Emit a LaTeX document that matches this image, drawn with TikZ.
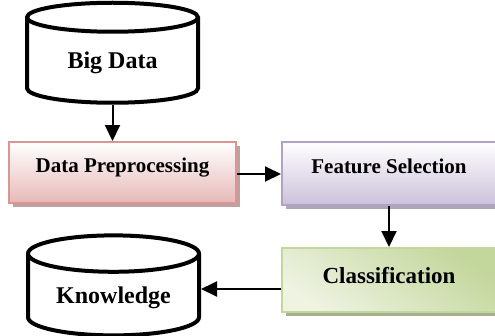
\documentclass[tikz,border=0pt]{standalone}
\usepackage{fontspec}
\setmainfont{Liberation Serif}
\usetikzlibrary{shapes.geometric,shadows,arrows.meta}

\definecolor{pinkline}{HTML}{D99694}
\definecolor{pinklow}{HTML}{E6B9B8}
\definecolor{lilacline}{HTML}{B3A2C7}
\definecolor{lilaclow}{HTML}{CCC1DA}
\definecolor{greenline}{HTML}{C3D69B}
\definecolor{greenlow}{HTML}{EEF3E2}

\begin{document}
\begin{tikzpicture}[x=1pt, y=-1pt,
  store/.style = {shape=cylinder, shape border rotate=90, aspect=0.3, draw,
    line width=4pt, minimum width=171pt, minimum height=100pt, font=\bfseries\fontsize{24}{28}\selectfont},
  stage/.style = {shape=rectangle, draw, line width=2pt, align=center,
    text height=15pt, text depth=15pt, font=\bfseries\fontsize{21}{25}\selectfont},
  flow/.style = {line width=2pt, -{Triangle[length=16pt,width=15pt]}}]
  \useasboundingbox (0,0) rectangle (495,335);
  \node[store] (big) at (112.5,63) {Big Data};
  \node[stage, draw=pinkline, top color=white, bottom color=pinklow,
    minimum width=227pt, minimum height=61pt,
    drop shadow={shadow xshift=4pt, shadow yshift=-4pt, fill=pinklow!60!gray, opacity=1}]
    (prep) at (122.5,172.5) {Data Preprocessing};
  \node[stage, draw=lilacline, top color=white, bottom color=lilaclow,
    minimum width=214pt, minimum height=63pt,
    drop shadow={shadow xshift=4pt, shadow yshift=-4pt, fill=lilaclow!60!gray, opacity=1}]
    (feat) at (389,173.5) {Feature Selection};
  \node[stage, draw=greenline, top color=greenline, bottom color=greenlow, shading angle=-35,
    minimum width=214pt, minimum height=64pt, text height=19pt, text depth=13pt,
    font=\bfseries\fontsize{23}{27}\selectfont,
    drop shadow={shadow xshift=4pt, shadow yshift=-4pt, fill=greenline!55!gray, opacity=1}]
    (cls) at (389,280) {Classification};
  \node[store] (know) at (113.5,298) {Knowledge};

  \draw[flow] (big.south) -- (big.south |- prep.north);
  \draw[flow] (prep.east |- 0,174) -- (feat.west |- 0,174);
  \draw[flow] (feat.south) -- (cls.north);
  \draw[flow] (cls.west |- 0,289) -- (know.east |- 0,289);
\end{tikzpicture}
\end{document}
